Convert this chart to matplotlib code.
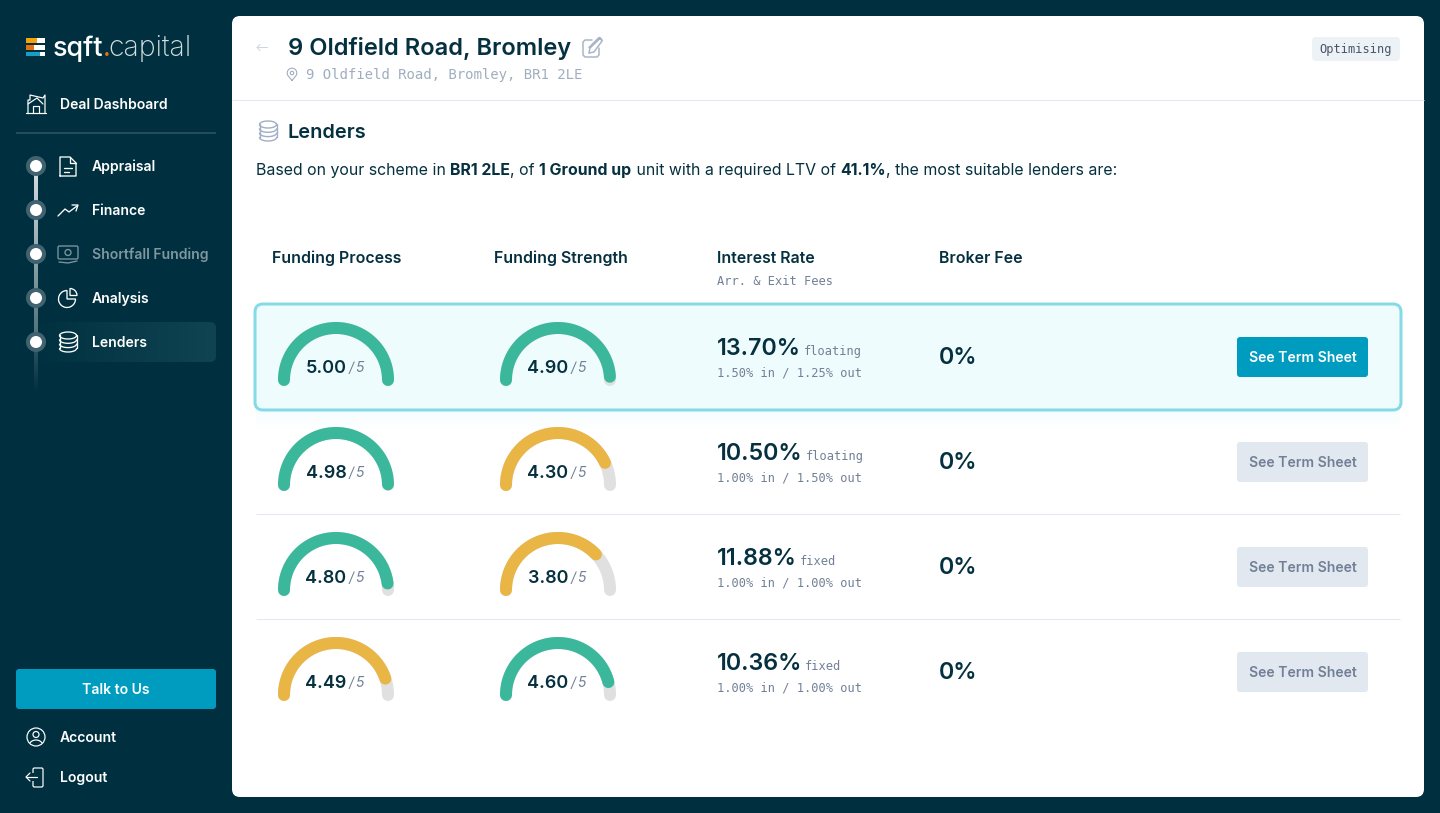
import matplotlib
matplotlib.use("Agg")
import matplotlib.pyplot as plt
import numpy as np
from matplotlib.colors import LinearSegmentedColormap
from matplotlib.patches import Circle, FancyBboxPatch, Rectangle, Wedge

# table data
process_scores = [5.00, 4.98, 4.80, 4.49]
strength_scores = [4.90, 4.30, 3.80, 4.60]
rates = ["13.70%", "10.50%", "11.88%", "10.36%"]
rate_types = ["floating", "floating", "fixed", "fixed"]
fees_in = ["1.50%", "1.00%", "1.00%", "1.00%"]
fees_out = ["1.25%", "1.50%", "1.00%", "1.00%"]
broker_fees = ["0%", "0%", "0%", "0%"]
headers = ["Funding Process", "Funding Strength", "Interest Rate", "Broker Fee"]
nav_items = ["Appraisal", "Finance", "Shortfall Funding", "Analysis", "Lenders"]

DARK = "#00303f"
INK = "#05303f"
GREEN = "#3bb89b"
YELLOW = "#e9b545"
TRACK = "#e0e0e0"
BLUE = "#009cc0"
MONO = "DejaVu Sans Mono"
SANS = "Inter"

fig = plt.figure(figsize=(14.4, 8.13), dpi=100, facecolor=DARK)
ax = fig.add_axes([0, 0, 1, 1])
ax.set_xlim(0, 1440)
ax.set_ylim(813, 0)
ax.axis("off")


def px(size):
    return size * 0.72


def label(x, y, s, size=14, color=INK, weight="normal", ha="left", va="center", family=SANS, **kw):
    if va == "center" and family == SANS:
        y += 1  # Inter sits a bit high compared to the browser
    return ax.text(x, y, s, fontsize=px(size), color=color, fontweight=weight, ha=ha, va=va, family=family, **kw)


def box(x, y, w, h, r, fc, ec="none", lw=0, z=1):
    p = FancyBboxPatch((x, y), w, h, boxstyle=f"round,pad=0,rounding_size={r}", fc=fc, ec=ec, lw=lw, zorder=z)
    ax.add_patch(p)
    return p


def stroke(xs, ys, color="white", lw=1.5, z=5):
    ax.plot(xs, ys, color=color, lw=px(lw), solid_capstyle="round", solid_joinstyle="round", zorder=z)


def rule(x0, x1, y, color, lw=1.0, z=2):
    ax.plot([x0, x1], [y, y], color=color, lw=px(lw), solid_capstyle="butt", zorder=z)


def gradient(values, extent, colors, vertical=True, z=1):
    grad = np.array(values, dtype=float)
    grad = grad.reshape(-1, 1) if vertical else grad.reshape(1, -1)
    cmap = LinearSegmentedColormap.from_list("g", colors)
    im = ax.imshow(grad, extent=extent, cmap=cmap, aspect="auto", zorder=z, vmin=0, vmax=1)
    ax.set_xlim(0, 1440)
    ax.set_ylim(813, 0)
    return im


def run(x, y, parts, size=16):
    # text with mixed weights, placed one piece after the other
    renderer = fig.canvas.get_renderer()
    for s, weight in parts:
        t = label(x, y, s, size=size, weight=weight, va="baseline")
        x += t.get_window_extent(renderer).width


def gauge(cx, cy, value):
    angles = np.radians(np.linspace(180, 0, 80))
    ax.plot(cx + 52 * np.cos(angles), cy - 52 * np.sin(angles), color=TRACK, lw=px(12),
            solid_capstyle="round", zorder=3)
    angles = np.radians(np.linspace(180, 180 - 180 * value / 5, 80))
    color = GREEN if value >= 4.5 else YELLOW
    ax.plot(cx + 52 * np.cos(angles), cy - 52 * np.sin(angles), color=color, lw=px(12),
            solid_capstyle="round", zorder=4)
    label(cx - 10, cy - 13, f"{value:.2f}", size=18, weight="semibold", ha="center")
    label(cx + 12.5, cy - 13, "/", size=14, color="#718096", style="italic")
    label(cx + 19, cy - 13, "5", size=14, color="#718096", style="italic")


def db_icon(cx, top, color, lw=1.5):
    w, h = 17, 7
    t = np.linspace(0, 2 * np.pi, 50)
    stroke(cx + w / 2 * np.cos(t), top + 3.5 + h / 2 * np.sin(t), color, lw)
    t = np.linspace(0, np.pi, 30)
    for off in (4.3, 8.6, 13):
        stroke(cx + w / 2 * np.cos(t), top + 3.5 + off + h / 2 * np.sin(t), color, lw)
    stroke([cx - w / 2, cx - w / 2], [top + 3.5, top + 16.5], color, lw)
    stroke([cx + w / 2, cx + w / 2], [top + 3.5, top + 16.5], color, lw)


# white card
box(232, 16, 1192, 781, 8, "white", z=1)
rule(232, 1424, 100.5, "#e2e8f0")

# logo
for y in (38.5, 45.3, 52):
    ax.add_patch(Rectangle((26, y), 19, 4.5, fc="white", zorder=3))
for y, c, w in zip((38.5, 45.3, 52), ("#f5a30a", "#e8710a", "#1b9cc4"), (11, 8, 14)):
    ax.add_patch(Rectangle((26, y), w, 4.5, fc=c, zorder=4))
label(53, 48, "sqft", size=27, color="white", weight="medium")
label(103, 48, ".", size=27, color="#e8710a")
label(108, 48, "capital", size=28.5, color="#d5dee0", weight="light")

# sidebar header
label(60, 104, "Deal Dashboard", size=14, color="white", weight="semibold")
stroke([26, 46], [113, 113], "white", 1.2)
stroke([28, 28, 30, 30, 43, 45, 45], [113, 100, 100, 95, 98, 95, 113], "white", 1.2)
stroke([28, 37, 43], [104, 98, 104], "white", 1.2)
stroke([33, 33, 39, 39], [113, 106, 106, 113], "white", 1.2)
rule(16, 216, 133, "#2f5361", 1.6)

# lenders pill with a fade from the sidebar colour
pill = box(30, 322, 186, 40, 6, "none", z=1)
im = gradient(np.linspace(0, 1, 256), (30, 216, 362, 322), [DARK, "#104452"], vertical=False)
im.set_clip_path(pill)

# nav rail
nav_y = [166, 210, 254, 298, 342]
gradient(np.linspace(0, 1, 128), (34, 38, 342, 166), ["#d9e0e2", "#4d6d78"], z=2)
gradient(np.linspace(0, 1, 64), (34, 38, 392, 342), ["#335866", DARK], z=2)
for y, name in zip(nav_y, nav_items):
    ax.add_patch(Circle((36, y), 10, fc="#40636f", zorder=3))
    ax.add_patch(Circle((36, y), 6, fc="white", zorder=4))
    col = "#7f979f" if name == "Shortfall Funding" else "white"
    label(92, y - 0.5, name, size=14, color=col, weight="semibold")

# nav icons
stroke([60, 60, 70, 76, 76, 60], [176, 157, 157, 163, 176, 176], "white", 1.3)
stroke([70, 70, 76], [157, 163, 163], "white", 1.3)
stroke([64, 72], [168, 168], "white", 1.3)
stroke([64, 69], [172, 172], "white", 1.3)
stroke([58, 65, 69, 77], [216, 209, 212, 206], "white", 1.3)
stroke([72, 78, 76], [205, 205, 211], "white", 1.3)
box(58, 246, 20, 13, 1.5, "none", ec="#7f979f", lw=px(1.3), z=5)
ax.add_patch(Circle((68, 252.5), 3, fc="none", ec="#7f979f", lw=px(1.3), zorder=5))
stroke([59, 68, 77], [262, 263, 261], "#7f979f", 1.3)
ax.add_patch(Wedge((67, 299), 8.5, 0, 270, fc="none", ec="white", lw=px(1.3), zorder=5))
ax.add_patch(Wedge((70, 295.5), 7, 270, 360, fc="none", ec="white", lw=px(1.3), zorder=5))
db_icon(68, 332, "white", 1.3)

# bottom of the sidebar
box(16, 669, 200, 40, 3, BLUE, z=2)
label(116, 688.5, "Talk to Us", size=14, color="white", weight="semibold", ha="center")
label(60, 736.5, "Account", size=14, color="white", weight="semibold")
label(60, 776.5, "Logout", size=14, color="white", weight="semibold")
ax.add_patch(Circle((36, 737), 9, fc="none", ec="white", lw=px(1.2), zorder=5))
ax.add_patch(Circle((36, 734.5), 3, fc="none", ec="white", lw=px(1.2), zorder=5))
t = np.linspace(np.pi * 1.15, np.pi * 1.85, 20)
stroke(36 + 6.5 * np.cos(t), 745 + 5 * np.sin(t), "white", 1.2)
box(33, 768, 10, 19, 1.5, "none", ec="white", lw=px(1.2), z=5)
ax.add_patch(Rectangle((31, 773), 4, 8, fc=DARK, zorder=6))
stroke([26, 37], [777, 777], "white", 1.2, z=7)
stroke([30, 26, 30], [773, 777, 781], "white", 1.2, z=7)

# card header
label(287.5, 48, "9 Oldfield Road, Bromley", size=23.65, weight="semibold")
label(306, 75, "9 Oldfield Road, Bromley, BR1 2LE", size=14.05, color="#a0aec0", family=MONO)
stroke([257, 267], [47.5, 47.5], "#cbd5e0", 1)
stroke([260, 257, 260], [44.5, 47.5, 50.5], "#cbd5e0", 1)
# edit icon
stroke([592, 585, 583, 583, 585, 597, 599, 599], [40, 40, 42, 55, 57, 57, 55, 48], "#a8b4c6", 1.5)
stroke([589, 590, 600.5, 602, 599, 589], [53, 48, 38, 40.5, 37.5, 47.5], "#a8b4c6", 1.5)
stroke([589, 594, 602], [53, 52, 41], "#a8b4c6", 1.5)
# pin icon
t = np.radians(np.linspace(-35, 215, 40))
stroke(np.r_[292, 292 + 4.8 * np.cos(t), 292], np.r_[80.5, 73 - 4.8 * np.sin(t), 80.5], "#a0aec0", 1.1)
ax.add_patch(Circle((292, 73), 1.7, fc="none", ec="#a0aec0", lw=px(1.1), zorder=5))

box(1312, 37, 88, 24, 4, "#edf2f7", z=2)
label(1356, 49, "Optimising", size=12, color="#4a5568", family=MONO, ha="center")

# section title
db_icon(268, 121, "#a0b0c4", 1.4)
label(287.5, 132, "Lenders", size=20, weight="semibold")
run(256, 175, [("Based on your scheme in ", "normal"), ("BR1 2LE", "bold"), (", of ", "normal"),
               ("1 Ground up", "bold"), (" unit with a required LTV of ", "normal"), ("41.1%", "bold"),
               (", the most suitable lenders are:", "normal")], size=15.9)

# table header
for x, h in zip((272, 494.5, 717, 939), headers):
    label(x, 257, h, size=15.9, weight="semibold")
label(717, 281, "Arr. & Exit Fees", size=12, color="#718096", family=MONO)

# selected row
gradient(np.linspace(0, 1, 64), (256, 1400, 430, 411), ["#f6fdfe", "white"], z=1.5)
box(255, 304, 1146, 106, 8, "#effcfd", ec="#86dae6", lw=px(3), z=2)

# table rows
row_y = [380, 485, 590, 695]
renderer = fig.canvas.get_renderer()
for i, y in enumerate(row_y):
    gauge(336, y, process_scores[i])
    gauge(558, y, strength_scores[i])
    t = label(717, y - 32, rates[i], size=23.3, weight="semibold")
    label(717 + t.get_window_extent(renderer).width + 3, y - 29, rate_types[i], size=12, color="#718096", family=MONO)
    label(717, y - 7, f"{fees_in[i]} in / {fees_out[i]} out", size=12, color="#718096", family=MONO)
    label(939, y - 23, broker_fees[i], size=23.3, weight="semibold")
    active = i == 0
    box(1237, y - 43, 131, 40, 3, BLUE if active else "#e2e8f0", z=3)
    label(1302.5, y - 23.5, "See Term Sheet", size=14, color="white" if active else "#718096",
          weight="semibold", ha="center", zorder=4)
    if 0 < i < 3:
        rule(256, 1400, y + 29, "#e2e8f0")

fig.savefig("out.png", dpi=100, facecolor=DARK)
